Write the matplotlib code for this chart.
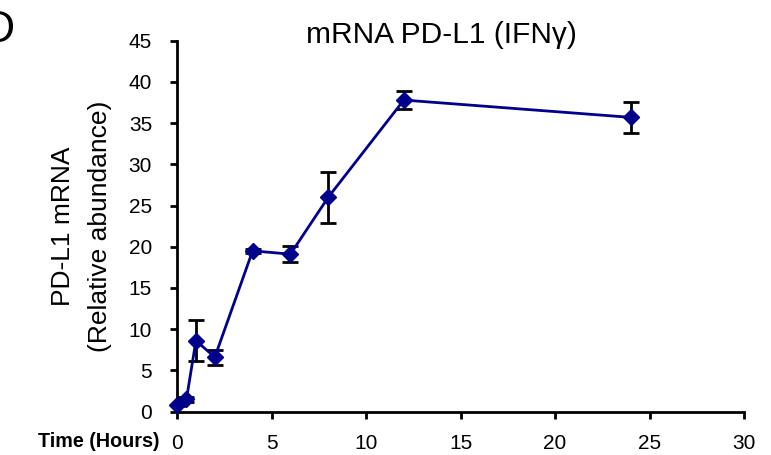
import matplotlib
matplotlib.use("Agg")
import matplotlib.pyplot as plt

plt.rcParams['font.family'] = ['Liberation Sans', 'DejaVu Sans']

# time course, hours after IFN-gamma
hours = [0, 0.5, 1, 2, 4, 6, 8, 12, 24]
abundance = [0.8, 1.5, 8.6, 6.6, 19.5, 19.1, 26.0, 37.8, 35.7]
err = [0.1, 0.3, 2.5, 0.9, 0.2, 1.0, 3.1, 1.1, 1.9]

x_ticks = [0, 5, 10, 15, 20, 25, 30]
y_ticks = [0, 5, 10, 15, 20, 25, 30, 35, 40, 45]

fig = plt.figure(figsize=(7.71, 4.55), dpi=100)
ax = fig.add_axes([0.2296, 0.0955, 0.7354, 0.815])

ax.errorbar(hours, abundance, yerr=err, fmt='none', ecolor='black',
            elinewidth=2, capsize=6, capthick=2, zorder=2)
ax.plot(hours, abundance, color='#00008B', lw=2, marker='D', ms=8,
        zorder=3, clip_on=False)

ax.set_xlim(0, 30)
ax.set_ylim(0, 45)
ax.set_xticks(x_ticks)
ax.set_yticks(y_ticks)

for s in ['top', 'right']:
    ax.spines[s].set_visible(False)
for s in ['left', 'bottom']:
    ax.spines[s].set_linewidth(2)

ax.tick_params(axis='x', direction='out', length=5, width=2, pad=11, labelsize=15)
ax.tick_params(axis='y', direction='out', length=5, width=2, pad=13, labelsize=15)

ax.set_ylabel('PD-L1 mRNA\n(Relative abundance)', fontsize=19, labelpad=12,
              linespacing=1.7)

fig.text(441 / 771, 1 - 43 / 455, 'mRNA PD-L1 (IFN\u03b3)', fontsize=21.5,
         ha='center', va='baseline')
fig.text(160 / 771, 1 - 447 / 455, 'Time (Hours)', fontsize=14.2,
         fontweight='bold', ha='right', va='baseline')
# panel letter, cut off at the left edge as in the source figure
fig.text(15 / 771, 1 - 42 / 455, 'D', fontsize=32, ha='right', va='baseline')

fig.savefig('out.png', dpi=100)
